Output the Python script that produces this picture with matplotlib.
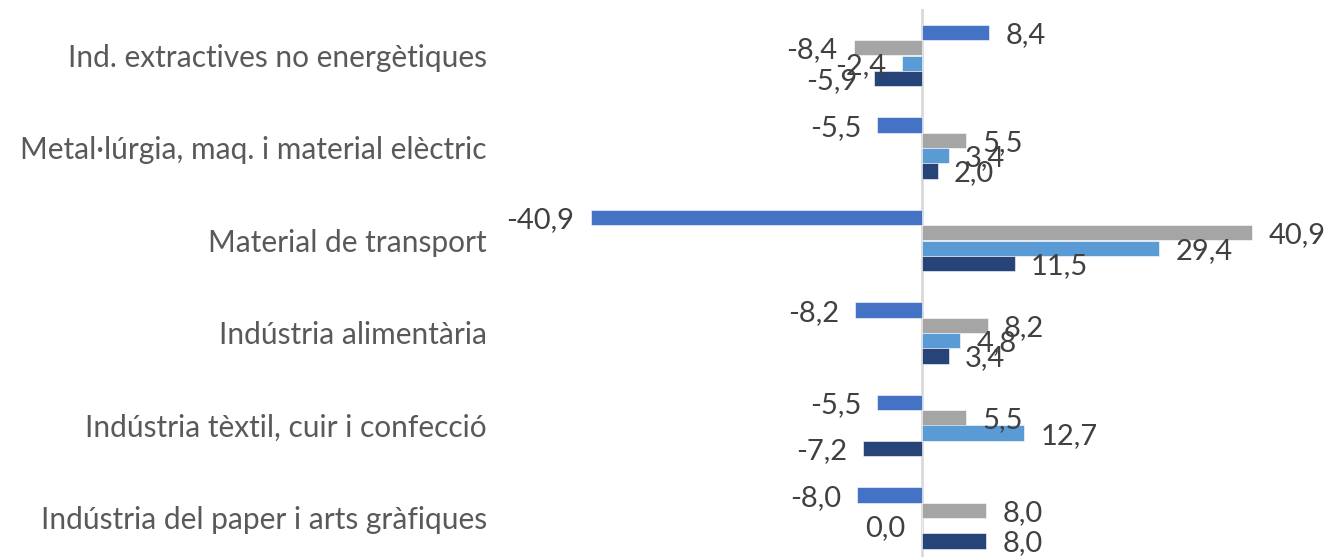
import matplotlib
matplotlib.use("Agg")
import matplotlib.pyplot as plt
import numpy as np

categories = [
    "Ind. extractives no energètiques",
    "Metal·lúrgia, maq. i material elèctric",
    "Material de transport",
    "Indústria alimentària",
    "Indústria tèxtil, cuir i confecció",
    "Indústria del paper i arts gràfiques",
]
serie_1 = [8.4, -5.5, -40.9, -8.2, -5.5, -8.0]
serie_2 = [-8.4, 5.5, 40.9, 8.2, 5.5, 8.0]
serie_3 = [-2.4, 3.4, 29.4, 4.8, 12.7, 0.0]
serie_4 = [-5.9, 2.0, 11.5, 3.4, -7.2, 8.0]

series = [serie_1, serie_2, serie_3, serie_4]
colors = ["#4472C4", "#A5A5A5", "#5B9BD5", "#264478"]

plt.rcParams['font.family'] = ['Lato', 'DejaVu Sans']

W, H = 1342, 557
fig = plt.figure(figsize=(W / 100, H / 100), dpi=100)
ax_left, ax_right = 500, 1330
ax_top, ax_bottom = 9.25, 564.25
ax = fig.add_axes([ax_left / W, (H - ax_bottom) / H, (ax_right - ax_left) / W, (ax_bottom - ax_top) / H])

zero_px = 921.5
scale = 8.09
ax.set_xlim((ax_left - zero_px) / scale, (ax_right - zero_px) / scale)
n = len(categories)
ax.set_ylim(n - 0.5, -0.5)

h = 0.165
y = np.arange(n)
for k, (vals, c) in enumerate(zip(series, colors)):
    yy = y + (k - 1.5) * h
    ax.barh(yy, vals, height=h, color=c, edgecolor="white", linewidth=0.4, zorder=2)
    for yi, v in zip(yy, vals):
        lab = f"{v:.1f}".replace(".", ",")
        off = 16 / scale
        if v > 0:
            ax.text(v + off, yi, lab, ha="left", va="center_baseline", fontsize=21, color="#404040", zorder=3)
        else:
            ax.text(v - off, yi, lab, ha="right", va="center_baseline", fontsize=21, color="#404040", zorder=3)

ax.axvline(0, color="#D9D9D9", linewidth=2, zorder=1)
ax.set_yticks(y)
ax.set_yticklabels(categories, fontsize=21.5, color="#595959")
ax.tick_params(axis="y", length=0, pad=9.5)
ax.set_xticks([])
for s in ax.spines.values():
    s.set_visible(False)

fig.savefig("out.png", dpi=100)
